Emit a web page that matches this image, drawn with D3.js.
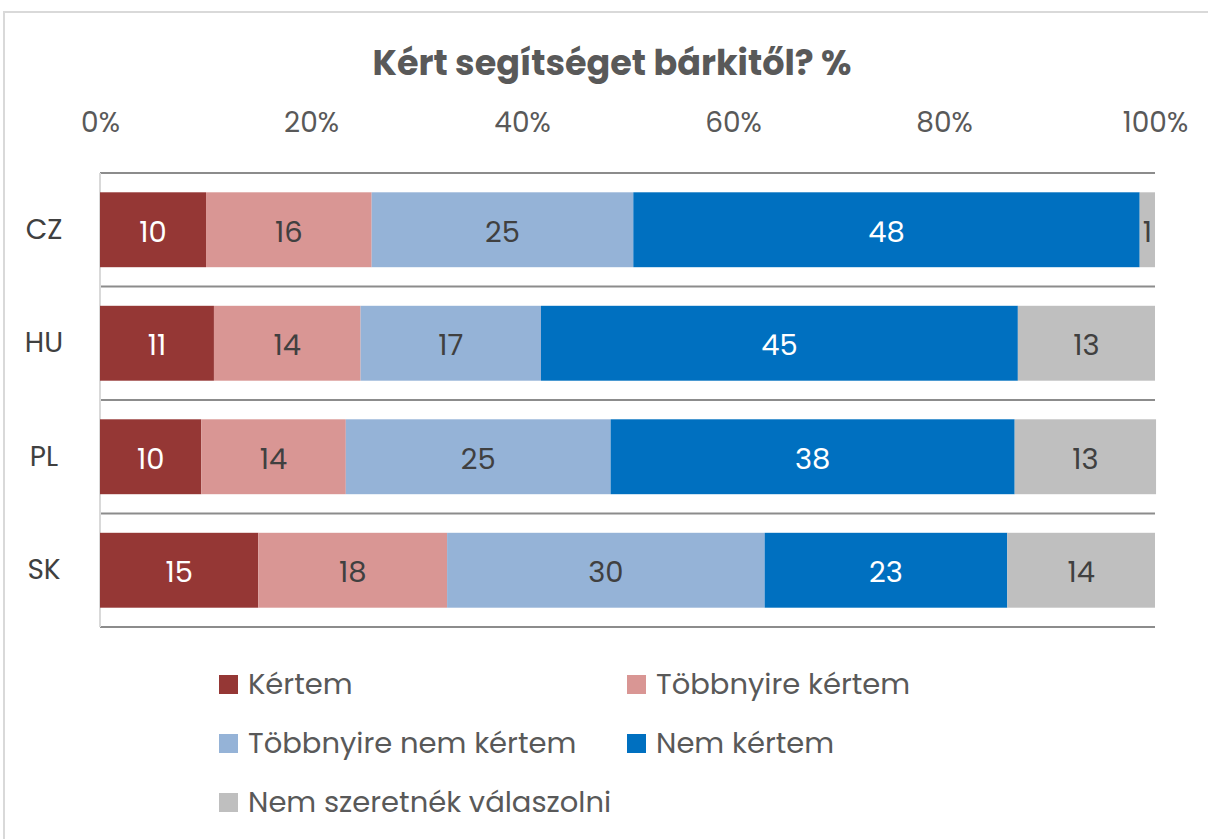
<!DOCTYPE html>
<html>
<head>
<meta charset="utf-8">
<script src="https://cdn.jsdelivr.net/npm/d3@7"></script>
<style>
  body { margin: 0; background: #fff; }
  svg { font-family: Poppins, "Open Sans", sans-serif; }
</style>
</head>
<body>
<svg id="chart" width="1208" height="839"></svg>
<script>
var title = "Kért segítséget bárkitől? %";
var countries = ["CZ", "HU", "PL", "SK"];
var seriesNames = ["Kértem", "Többnyire kértem", "Többnyire nem kértem", "Nem kértem", "Nem szeretnék válaszolni"];
var seriesColors = ["#953735", "#d99694", "#95b3d7", "#0070c0", "#bfbfbf"];
var labelColors = ["#ffffff", "#404040", "#404040", "#ffffff", "#404040"];
// values per series, one entry per country (CZ, HU, PL, SK)
var kertem = [10.05, 10.8, 9.6, 15.0];
var tobbnyireKertem = [15.7, 13.9, 13.7, 17.9];
var tobbnyireNemKertem = [24.8, 17.1, 25.1, 30.1];
var nemKertem = [48.0, 45.2, 38.3, 23.0];
var nemValaszol = [1.45, 13.0, 13.4, 14.0];
var tickValues = [0, 20, 40, 60, 80, 100];

var seriesValues = [kertem, tobbnyireKertem, tobbnyireNemKertem, nemKertem, nemValaszol];
var rows = countries.map(function(c, i) {
  var r = { country: c };
  seriesNames.forEach(function(s, j) { r[s] = seriesValues[j][i]; });
  return r;
});

var svg = d3.select("#chart");
var margin = { left: 100, right: 53, top: 173, bottom: 212 };
var width = 1208 - margin.left - margin.right;
var height = 839 - margin.top - margin.bottom;

// outer frame
svg.append("rect").attr("x", 4).attr("y", 12).attr("width", 1220).attr("height", 840)
  .attr("fill", "none").attr("stroke", "#d9d9d9").attr("stroke-width", 2);

svg.append("text").attr("x", 612).attr("y", 75).attr("text-anchor", "middle")
  .attr("font-size", 35).attr("font-weight", "bold").attr("fill", "#595959").text(title);

var g = svg.append("g").attr("transform", "translate(" + margin.left + "," + margin.top + ")");

var x = d3.scaleLinear().domain([0, 100]).range([0, width]);
var y = d3.scaleBand().domain(countries).range([0, height]).paddingInner(0.34).paddingOuter(0.17);
var yGrid = d3.scaleBand().domain(countries).range([0, height]);

// horizontal separators
g.selectAll("line.sep").data(d3.range(countries.length + 1)).enter().append("line")
  .attr("class", "sep")
  .attr("x1", 0).attr("x2", width)
  .attr("y1", function(d) { return d * yGrid.step(); })
  .attr("y2", function(d) { return d * yGrid.step(); })
  .attr("stroke", "#8c8c8c").attr("stroke-width", 2);

g.append("line").attr("x1", 0).attr("x2", 0).attr("y1", 0).attr("y2", height)
  .attr("stroke", "#d9d9d9").attr("stroke-width", 2);

// top axis labels
var xAxis = g.append("g").attr("transform", "translate(0,-38)")
  .call(d3.axisTop(x).tickValues(tickValues).tickSize(0).tickFormat(function(d) { return d + "%"; }));
xAxis.select(".domain").remove();
xAxis.selectAll("text").attr("font-size", 28).attr("fill", "#595959").attr("font-family", "Poppins, 'Open Sans', sans-serif");

// category labels
var yAxis = g.append("g").attr("transform", "translate(-53,0)")
  .call(d3.axisLeft(y).tickSize(0));
yAxis.select(".domain").remove();
yAxis.selectAll("text").attr("font-size", 28).attr("fill", "#404040").attr("text-anchor", "middle")
  .attr("font-family", "Poppins, 'Open Sans', sans-serif");

var stack = d3.stack().keys(seriesNames)(rows);

var layer = g.selectAll("g.layer").data(stack).enter().append("g").attr("class", "layer");
layer.each(function(s, si) {
  d3.select(this).selectAll("rect").data(s).enter().append("rect")
    .attr("x", function(d) { return x(d[0]); })
    .attr("y", function(d) { return y(d.data.country); })
    .attr("width", function(d) { return x(d[1]) - x(d[0]); })
    .attr("height", y.bandwidth())
    .attr("fill", seriesColors[si]);
});

layer.each(function(s, si) {
  d3.select(this).selectAll("text").data(s).enter().append("text")
    .attr("x", function(d) { return (x(d[0]) + x(d[1])) / 2; })
    .attr("y", function(d) { return y(d.data.country) + y.bandwidth() / 2 + 2; })
    .attr("dy", "0.35em").attr("text-anchor", "middle")
    .attr("font-size", 29).attr("fill", labelColors[si])
    .text(function(d) { return Math.round(d[1] - d[0]); });
});

// legend
var legendPos = [[219, 684], [627, 684], [219, 743], [627, 743], [219, 802]];
var legend = svg.selectAll("g.legend").data(seriesNames).enter().append("g")
  .attr("class", "legend")
  .attr("transform", function(d, i) { return "translate(" + legendPos[i][0] + "," + legendPos[i][1] + ")"; });
legend.append("rect").attr("x", 0).attr("y", -9).attr("width", 19).attr("height", 19)
  .attr("fill", function(d, i) { return seriesColors[i]; });
legend.append("text").attr("x", 29).attr("dy", "0.35em").attr("font-size", 29).attr("fill", "#595959")
  .text(function(d) { return d; });
</script>
</body>
</html>
